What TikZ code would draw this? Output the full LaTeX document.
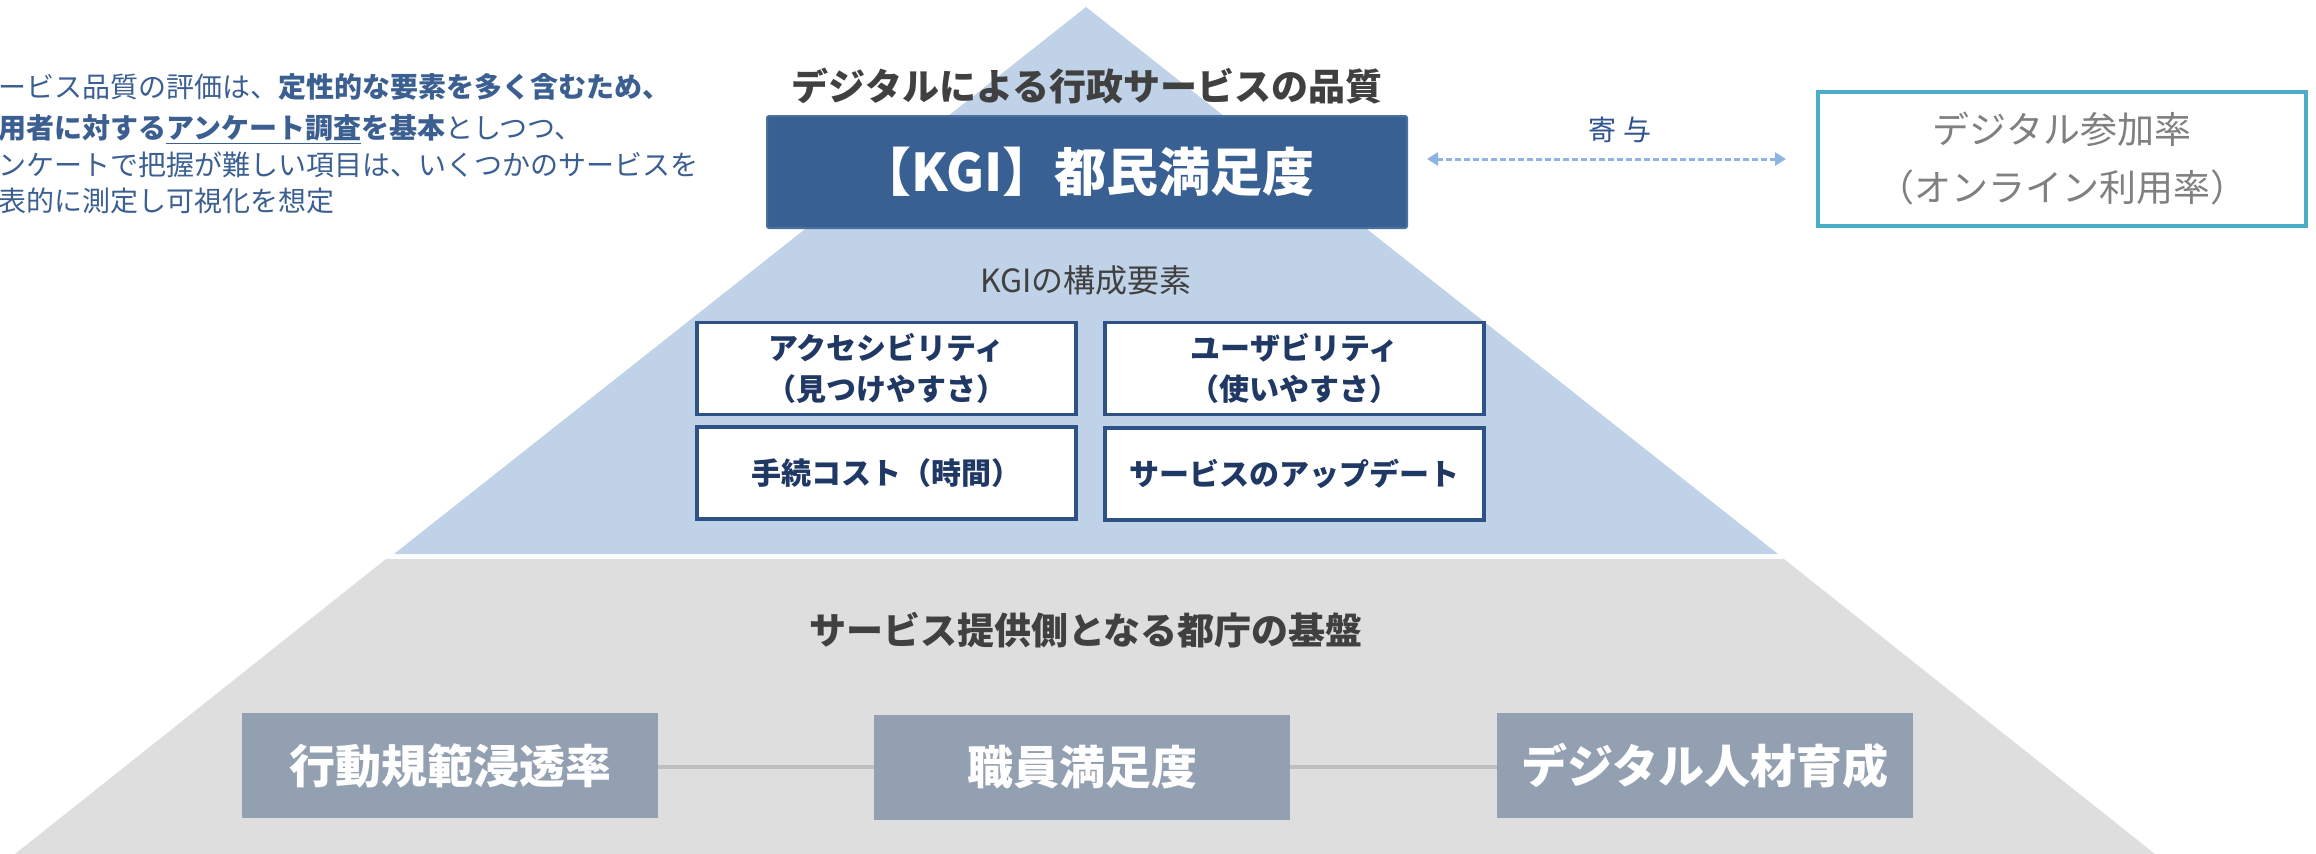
\documentclass[tikz,border=0pt]{standalone}
\usepackage{fontspec}
\setmainfont{Noto Sans CJK JP}
\usetikzlibrary{arrows.meta}
\definecolor{triblue}{RGB}{192,210,232}
\definecolor{basegray}{RGB}{222,222,222}
\definecolor{kgifill}{RGB}{56,96,146}
\definecolor{kgiline}{RGB}{74,112,160}
\definecolor{titlegray}{RGB}{64,64,64}
\definecolor{notetext}{RGB}{59,95,145}
\definecolor{kiyoblue}{RGB}{47,82,143}
\definecolor{arrowblue}{RGB}{141,180,226}
\definecolor{tealline}{RGB}{75,172,198}
\definecolor{digtext}{RGB}{128,128,128}
\definecolor{compline}{RGB}{47,82,134}
\definecolor{comptext}{RGB}{32,56,100}
\definecolor{basefill}{RGB}{147,160,177}
\definecolor{connline}{RGB}{191,191,191}
\tikzset{
  heading/.style={font=\bfseries\fontsize{37}{44}\selectfont, text=titlegray, inner sep=0},
  kgibox/.style={draw=kgiline, fill=kgifill, line width=2, rounded corners=2,
    minimum width=640, minimum height=112, text=white,
    font=\bfseries\fontsize{52}{60}\selectfont},
  compbox/.style={draw=compline, fill=white, line width=3.5, minimum width=379,
    minimum height=92, text=comptext, align=center,
    font=\bfseries\fontsize{30}{41}\selectfont},
  basebox/.style={fill=basefill, minimum width=416, minimum height=105, text=white,
    font=\bfseries\fontsize{46}{50}\selectfont},
  digbox/.style={draw=tealline, line width=4, fill=white, minimum width=488,
    minimum height=134, text=digtext, align=center,
    font=\fontsize{37}{58}\selectfont},
  noteline/.style={anchor=west, text=notetext, inner sep=0,
    font=\fontsize{28}{32}\selectfont},
  conn/.style={draw=connline, line width=4},
}
\begin{document}
\begin{tikzpicture}[x=1pt,y=-1pt]
\useasboundingbox (0,0) rectangle (2316,854);
% pyramid
\fill[basegray] (386,559) -- (1784,559) -- (2155,854) -- (15,854) -- cycle;
\fill[triblue] (1086,7) -- (1778,554) -- (394,554) -- cycle;
% top
\node[heading] (title) at (1087,86) {デジタルによる行政サービスの品質};
\node[kgibox] (kgi) at (1087,172) {【KGI】都民満足度};
\node[digbox] (dig) at (2062,159) {デジタル参加率\\（オンライン利用率）};
\node[text=kiyoblue, font=\fontsize{28}{32}\selectfont, inner sep=0] (kiyo) at (1620,130) {寄 与};
\draw[arrowblue, line width=3, dashed, dash pattern=on 6pt off 3pt,
  {Triangle[length=11pt,width=13pt]}-{Triangle[length=11pt,width=13pt]},
  shorten <=19, shorten >=30] (kgi.east |- dig.west) -- (dig.west);
% notes
\node[noteline] (n1) at (-2,87) {ービス品質の評価は、\textbf{定性的な要素を多く含むため、}};
\node[noteline] (n2) at (-2,129) {\textbf{用者に対する\underline{アンケート調査}を基本}としつつ、};
\node[noteline] (n3) at (-2,165) {ンケートで把握が難しい項目は、いくつかのサービスを};
\node[noteline] (n4) at (-2,201) {表的に測定し可視化を想定};
% components
\node[text=titlegray, font=\fontsize{32}{36}\selectfont, inner sep=0] (comp) at (1086,280) {KGIの構成要素};
\node[compbox] (ca) at (886.5,368.5) {アクセシビリティ\\（見つけやすさ）};
\node[compbox] (cb) at (1294.5,368.5) {ユーザビリティ\\（使いやすさ）};
\node[compbox] (cc) at (886.5,473) {手続コスト（時間）};
\node[compbox] (cd) at (1294.5,474) {サービスのアップデート};
% base
\node[heading] (basetitle) at (1086,630) {サービス提供側となる都庁の基盤};
\node[basebox] (b1) at (450,765.5) {行動規範浸透率};
\node[basebox] (b2) at (1082,767.5) {職員満足度};
\node[basebox] (b3) at (1705,765.5) {デジタル人材育成};
\draw[conn] (b1.east |- 0,767) -- (b2.west |- 0,767);
\draw[conn] (b2.east |- 0,767) -- (b3.west |- 0,767);
\end{tikzpicture}
\end{document}
